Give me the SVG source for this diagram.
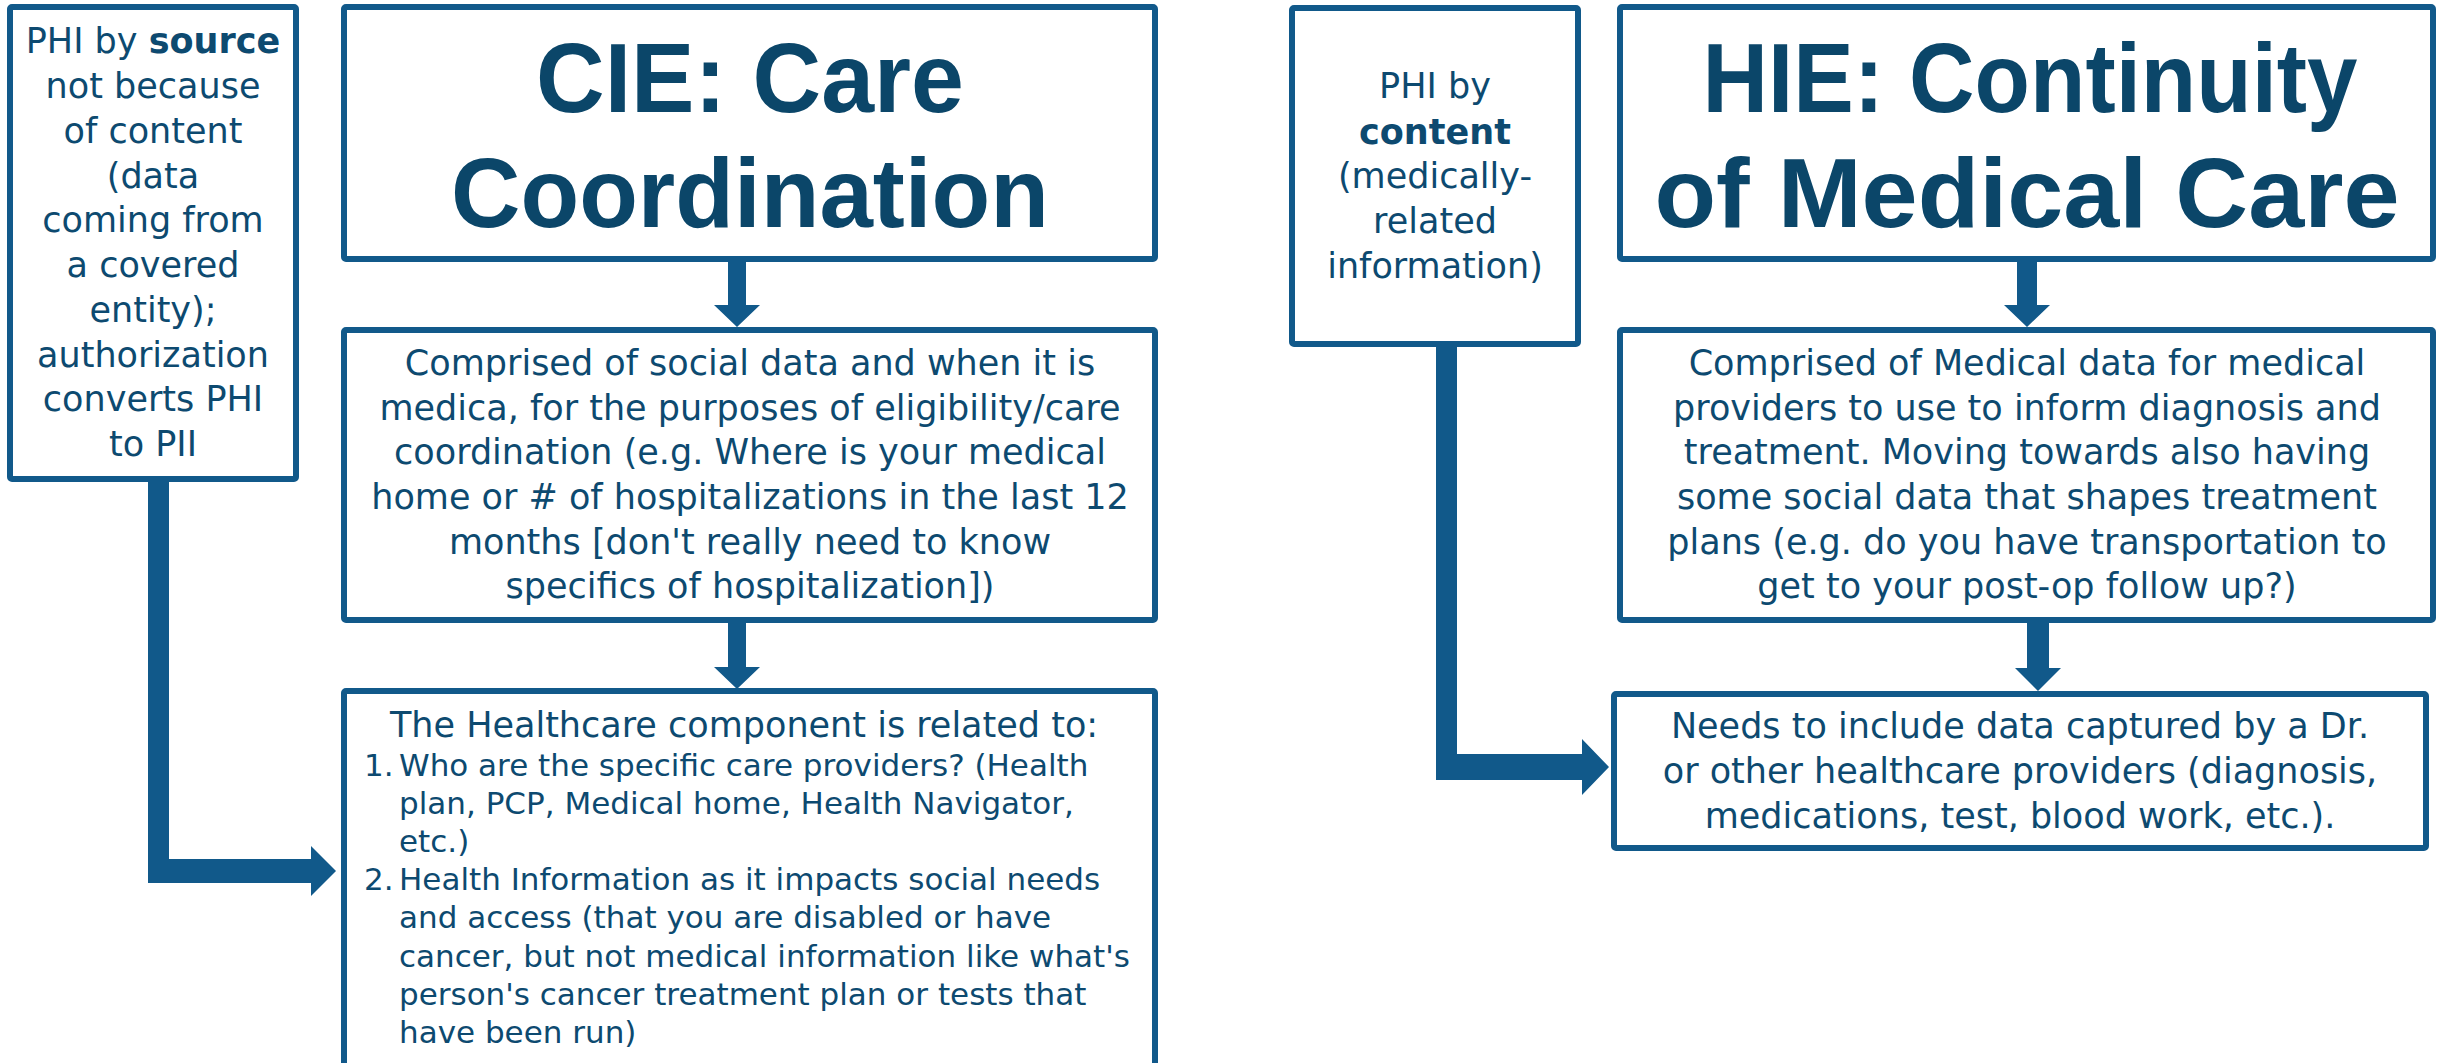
<svg xmlns="http://www.w3.org/2000/svg" width="2448" height="1063" viewBox="0 0 2448 1063">
  <style>
    .box { fill: #ffffff; stroke: #11598a; stroke-width: 6; }
    .conn { fill: #11598a; }
    .t { font-family: "DejaVu Sans", "Liberation Sans", sans-serif; font-size: 35px; fill: #0d4a70; text-anchor: middle; }
    .s { font-size: 31px; text-anchor: start; }
    .title { font-family: "Liberation Sans", Arial, sans-serif; font-weight: bold; font-size: 99px; fill: #0b4669; text-anchor: middle; }
    .b { font-weight: bold; }
  </style>
  <rect width="2448" height="1063" fill="#ffffff"/>

  <!-- connectors -->
  <g id="connectors">
    <!-- CIE title to description -->
    <polygon class="conn" points="728,262 746,262 746,305 760,305 737,327 714,305 728,305"/>
    <!-- CIE description to healthcare component -->
    <polygon class="conn" points="728,623 746,623 746,667 760,667 737,689 714,667 728,667"/>
    <!-- PHI by source elbow into healthcare component -->
    <polygon class="conn" points="148,482 169,482 169,859 311,859 311,846 336,871 311,896 311,883 148,883"/>
    <!-- HIE title to description -->
    <polygon class="conn" points="2017,262 2037,262 2037,305 2050,305 2027,327 2004,305 2017,305"/>
    <!-- HIE description to data capture -->
    <polygon class="conn" points="2027,623 2049,623 2049,668 2061,668 2038,691 2015,668 2027,668"/>
    <!-- PHI by content elbow into data capture -->
    <polygon class="conn" points="1436,347 1457,347 1457,754 1582,754 1582,739 1609,767 1582,795 1582,780 1436,780"/>
  </g>

  <!-- PHI by source -->
  <g id="phi-source">
    <rect class="box" x="10" y="7" width="286" height="472" rx="2"/>
    <text class="t" x="153" y="53">PHI by <tspan class="b">source</tspan></text>
    <text class="t" x="153" y="98">not because</text>
    <text class="t" x="153" y="143">of content</text>
    <text class="t" x="153" y="188">(data</text>
    <text class="t" x="153" y="232">coming from</text>
    <text class="t" x="153" y="277">a covered</text>
    <text class="t" x="153" y="322">entity);</text>
    <text class="t" x="153" y="367">authorization</text>
    <text class="t" x="153" y="411">converts PHI</text>
    <text class="t" x="153" y="456">to PII</text>
  </g>

  <!-- CIE title -->
  <g id="cie-title">
    <rect class="box" x="344" y="7" width="811" height="252" rx="2"/>
    <text class="title" x="750" y="112" textLength="428" lengthAdjust="spacingAndGlyphs">CIE: Care</text>
    <text class="title" x="750" y="227" textLength="598" lengthAdjust="spacingAndGlyphs">Coordination</text>
  </g>

  <!-- CIE description -->
  <g id="cie-description">
    <rect class="box" x="344" y="330" width="811" height="290" rx="2"/>
    <text class="t" x="750" y="375">Comprised of social data and when it is</text>
    <text class="t" x="750" y="420">medica, for the purposes of eligibility/care</text>
    <text class="t" x="750" y="464">coordination (e.g. Where is your medical</text>
    <text class="t" x="750" y="509">home or # of hospitalizations in the last 12</text>
    <text class="t" x="750" y="554">months [don't really need to know</text>
    <text class="t" x="750" y="598">specifics of hospitalization])</text>
  </g>

  <!-- CIE healthcare component -->
  <g id="cie-healthcare">
    <rect class="box" x="344" y="691" width="811" height="400" rx="2"/>
    <text class="t" x="744" y="737">The Healthcare component is related to:</text>
    <text class="t s" x="364" y="776">1.</text>
    <text class="t s" x="399" y="776">Who are the specific care providers? (Health</text>
    <text class="t s" x="399" y="814">plan, PCP, Medical home, Health Navigator,</text>
    <text class="t s" x="399" y="852">etc.)</text>
    <text class="t s" x="364" y="890">2.</text>
    <text class="t s" x="399" y="890">Health Information as it impacts social needs</text>
    <text class="t s" x="399" y="928">and access (that you are disabled or have</text>
    <text class="t s" x="399" y="967">cancer, but not medical information like what's</text>
    <text class="t s" x="399" y="1005">person's cancer treatment plan or tests that</text>
    <text class="t s" x="399" y="1043">have been run)</text>
  </g>

  <!-- PHI by content -->
  <g id="phi-content">
    <rect class="box" x="1292" y="8" width="286" height="336" rx="2"/>
    <text class="t" x="1435" y="98">PHI by</text>
    <text class="t b" x="1435" y="144">content</text>
    <text class="t" x="1435" y="188">(medically-</text>
    <text class="t" x="1435" y="233">related</text>
    <text class="t" x="1435" y="278">information)</text>
  </g>

  <!-- HIE title -->
  <g id="hie-title">
    <rect class="box" x="1620" y="7" width="813" height="252" rx="2"/>
    <text class="title" x="2030" y="112" textLength="655" lengthAdjust="spacingAndGlyphs">HIE: Continuity</text>
    <text class="title" x="2027" y="227" textLength="745" lengthAdjust="spacingAndGlyphs">of Medical Care</text>
  </g>

  <!-- HIE description -->
  <g id="hie-description">
    <rect class="box" x="1620" y="330" width="813" height="290" rx="2"/>
    <text class="t" x="2027" y="375">Comprised of Medical data for medical</text>
    <text class="t" x="2027" y="420">providers to use to inform diagnosis and</text>
    <text class="t" x="2027" y="464">treatment. Moving towards also having</text>
    <text class="t" x="2027" y="509">some social data that shapes treatment</text>
    <text class="t" x="2027" y="554">plans (e.g. do you have transportation to</text>
    <text class="t" x="2027" y="598">get to your post-op follow up?)</text>
  </g>

  <!-- HIE data capture -->
  <g id="hie-data">
    <rect class="box" x="1614" y="694" width="812" height="154" rx="2"/>
    <text class="t" x="2020" y="738">Needs to include data captured by a Dr.</text>
    <text class="t" x="2020" y="783">or other healthcare providers (diagnosis,</text>
    <text class="t" x="2020" y="828">medications, test, blood work, etc.).</text>
  </g>
</svg>
